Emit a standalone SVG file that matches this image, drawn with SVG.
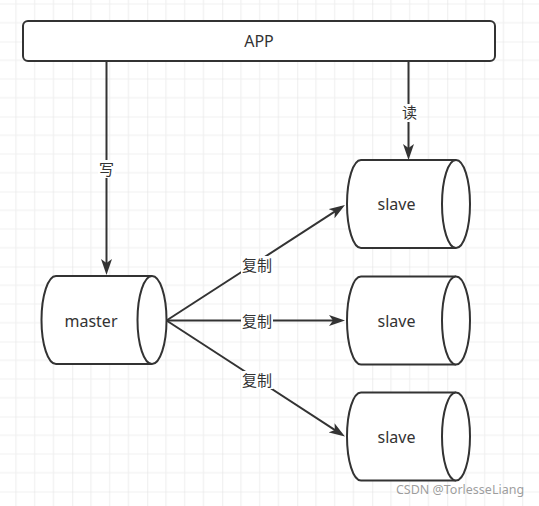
<svg xmlns="http://www.w3.org/2000/svg" width="539" height="506" viewBox="0 0 539 506">
  <defs>
    <pattern id="grid" x="-2.75" y="-33.5" width="75" height="75" patternUnits="userSpaceOnUse">
      <path d="M18.75,0 V75 M37.5,0 V75 M56.25,0 V75 M0,18.75 H75 M0,37.5 H75 M0,56.25 H75" stroke="#f0f0f0" stroke-width="1.2" fill="none"/>
      <path d="M0,0 V75 M0,0 H75" stroke="#e3e3e3" stroke-width="1.2" fill="none"/>
    </pattern>
    <marker id="arrow" viewBox="0 0 16 11" refX="12" refY="5.5" markerWidth="16" markerHeight="11" markerUnits="userSpaceOnUse" orient="auto">
      <path d="M0,0 L16,5.5 L0,11 L4,5.5 Z" fill="#333333"/>
    </marker>
  </defs>
  <style>
    .shape { fill: #ffffff; stroke: #333333; stroke-width: 2; }
    .edge { fill: none; stroke: #333333; stroke-width: 2; marker-end: url(#arrow); }
    .label { font-family: "Noto Sans", "Liberation Sans", sans-serif; font-size: 16px; fill: #333333; text-anchor: middle; }
    .cjk { font-family: "Noto Sans CJK SC", sans-serif; font-size: 15px; fill: #333333; text-anchor: middle; }
    .lblbg { fill: #ffffff; }
  </style>
  <rect x="0" y="0" width="539" height="506" fill="#ffffff"/>
  <rect x="0" y="0" width="539" height="506" fill="url(#grid)"/>

  <g id="connectors">
    <path class="edge" d="M106.5,61 V271"/>
    <path class="edge" d="M408.5,61 V156"/>
    <path class="edge" d="M166.5,320.5 L341.6,207.2"/>
    <path class="edge" d="M166.5,320.5 H341"/>
    <path class="edge" d="M166.5,320.5 L341.6,434.3"/>
    <g id="edge-labels">
      <rect class="lblbg" x="98" y="160" width="17" height="18"/>
      <text class="cjk" x="106.5" y="174.5">写</text>
      <rect class="lblbg" x="401" y="104" width="17" height="18"/>
      <text class="cjk" x="409.5" y="118">读</text>
      <rect class="lblbg" x="241" y="256" width="32" height="18"/>
      <text class="cjk" x="257" y="270.5">复制</text>
      <rect class="lblbg" x="241" y="312.5" width="32" height="18"/>
      <text class="cjk" x="257" y="327">复制</text>
      <rect class="lblbg" x="241" y="371" width="32" height="18"/>
      <text class="cjk" x="257" y="385.5">复制</text>
    </g>
  </g>

  <g id="app">
    <rect class="shape" x="23" y="21" width="472" height="40" rx="5" ry="5"/>
    <text class="label" x="259" y="47">APP</text>
  </g>

  <g id="master">
    <path class="shape" d="M56,276 H152 A14.5,44 0 0 1 152,364 H56 A14.5,44 0 0 1 56,276 Z"/>
    <path class="shape" fill="none" d="M152,276 A14.5,44 0 0 0 152,364"/>
    <text class="label" x="91" y="326.5">master</text>
  </g>

  <g id="slave1">
    <path class="shape" d="M361,160 H456 A14,44 0 0 1 456,248 H361 A14,44 0 0 1 361,160 Z"/>
    <path class="shape" d="M456,160 A14,44 0 0 0 456,248"/>
    <text class="label" x="396.5" y="210">slave</text>
  </g>

  <g id="slave2">
    <path class="shape" d="M361,276.5 H456 A14,44 0 0 1 456,364.5 H361 A14,44 0 0 1 361,276.5 Z"/>
    <path class="shape" d="M456,276.5 A14,44 0 0 0 456,364.5"/>
    <text class="label" x="396.5" y="326.5">slave</text>
  </g>

  <g id="slave3">
    <path class="shape" d="M361,392.5 H456 A14,44 0 0 1 456,480.5 H361 A14,44 0 0 1 361,392.5 Z"/>
    <path class="shape" d="M456,392.5 A14,44 0 0 0 456,480.5"/>
    <text class="label" x="396.5" y="442.5">slave</text>
  </g>

  <text x="460" y="493.5" font-family="Noto Sans, Liberation Sans, sans-serif" font-size="12.5" fill="#8c8c8c" fill-opacity="0.85" text-anchor="middle">CSDN @TorlesseLiang</text>
</svg>
